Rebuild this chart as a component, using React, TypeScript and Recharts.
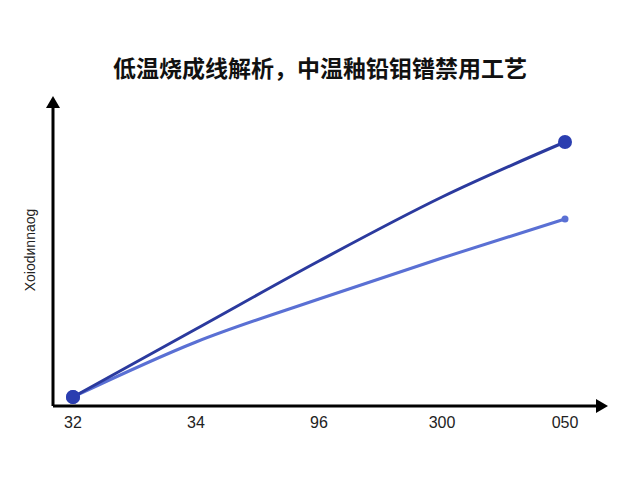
import { Line, LineChart, XAxis, YAxis } from 'recharts';

const categories = ['32', '34', '96', '300', '050'];
const upperSeries = [9, 77, 145, 209, 264];
const lowerSeries = [9, 64, 107, 148, 187];

const data = categories.map((label, i) => ({
  label,
  upper: upperSeries[i],
  lower: lowerSeries[i],
}));

const DARK = '#2b3a9e';
const LIGHT = '#5a70d4';

function endDot(r: number, fill: string) {
  return (props: any) => {
    const { cx, cy, index } = props;
    if (index !== 0 && index !== data.length - 1) return <g key={`d-${index}`} />;
    return <circle key={`d-${index}`} cx={cx} cy={cy} r={r} fill={fill} stroke="none" />;
  };
}

function firstDot(props: any) {
  const { cx, cy, index } = props;
  if (index !== 0) return <g key={`f-${index}`} />;
  return <circle key={`f-${index}`} cx={cx} cy={cy} r={7} fill="#2b3eb0" stroke="none" />;
}

export default function App() {
  return (
    <div style={{ position: 'absolute', left: 0, top: 0, width: 640, height: 480, background: '#fff', fontFamily: '"Liberation Sans", Arial, sans-serif' }}>
      <svg width={0} height={0} style={{ position: 'absolute' }}>
        <defs>
          <marker
            id="arrow"
            viewBox="0 0 12 14"
            refX={0}
            refY={7}
            markerWidth={12}
            markerHeight={14}
            markerUnits="userSpaceOnUse"
            orient="auto-start-reverse"
          >
            <path d="M0,0 L12,7 L0,14 z" fill="#000" />
          </marker>
        </defs>
      </svg>
      <div
        style={{
          position: 'absolute',
          left: 0,
          top: 50,
          width: 640,
          textAlign: 'center',
          fontFamily: '"Noto Sans CJK SC", sans-serif',
          fontWeight: 700,
          fontSize: 23,
          color: '#111',
        }}
      >
        低温烧成线解析，中温釉铅钼镨禁用工艺
      </div>
      <div
        style={{
          position: 'absolute',
          left: 30,
          top: 250,
          transform: 'translate(-50%, -50%) rotate(-90deg)',
          fontSize: 14,
          color: '#222',
          whiteSpace: 'nowrap',
        }}
      >
        Xoiodиnnaog
      </div>
      <LineChart
        width={640}
        height={480}
        data={data}
        margin={{ top: 108, right: 44, left: 52, bottom: 0 }}
      >
        <XAxis
          dataKey="label"
          height={74}
          padding={{ left: 20, right: 31 }}
          tickLine={false}
          tickSize={0}
          tickMargin={11}
          axisLine={{ stroke: '#000', strokeWidth: 3, markerEnd: 'url(#arrow)' } as any}
          tick={{ fill: '#222', fontSize: 16 }}
          interval={0}
        />
        <YAxis
          width={1}
          domain={[0, 298]}
          tick={false}
          tickLine={false}
          axisLine={{ stroke: '#000', strokeWidth: 3, markerStart: 'url(#arrow)' } as any}
        />
        <Line
          type="monotone"
          dataKey="lower"
          stroke={LIGHT}
          strokeWidth={3}
          dot={endDot(3.5, LIGHT)}
          activeDot={false}
          isAnimationActive={false}
        />
        <Line
          type="monotone"
          dataKey="upper"
          stroke={DARK}
          strokeWidth={3}
          dot={endDot(7, '#2b3eb0')}
          activeDot={false}
          isAnimationActive={false}
        />
        <Line
          type="monotone"
          dataKey="upper"
          stroke="none"
          dot={firstDot}
          activeDot={false}
          legendType="none"
          isAnimationActive={false}
        />
      </LineChart>
    </div>
  );
}
